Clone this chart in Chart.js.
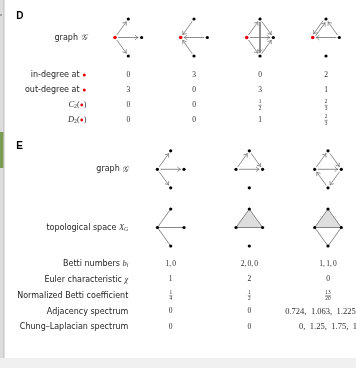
<!DOCTYPE html>
<html><head><meta charset="utf-8">
<script src="https://cdn.jsdelivr.net/npm/chart.js@4.4.1/dist/chart.umd.min.js"></script>
<style>html,body{margin:0;padding:0;background:#fff;overflow:hidden}canvas{display:block}</style>
</head><body>
<canvas id="c" width="356" height="368"></canvas>
<script>
// ---------------- data ----------------
const panelLetters = ['D', 'E'];
const dRowNames = ['in-degree at', 'out-degree at', 'C2', 'D2'];
const dInDegree = ['0', '3', '0', '2'];
const dOutDegree = ['3', '0', '3', '1'];
const dC2 = ['0', '0', '1/2', '2/3'];
const dD2 = ['0', '0', '1', '2/3'];
const dGraphEdges = [
  [['r','t'], ['r','R'], ['r','b']],
  [['t','r'], ['R','r'], ['b','r']],
  [['r','t'], ['r','R'], ['r','b'], ['t','R'], ['t','b'], ['b','R']],
  [['r','t'], ['t','r'], ['R','r'], ['R','t']]
];
const eRowNames = ['Betti numbers', 'Euler characteristic', 'Normalized Betti coefficient', 'Adjacency spectrum', 'Chung\u2013Laplacian spectrum'];
const eBetti = ['1, 0', '2, 0, 0', '1, 1, 0'];
const eEuler = ['1', '2', '0'];
const eNormBetti = ['1/4', '1/2', '13/20'];
const eAdjacency = ['0', '0', '0.724, 1.063, 1.225, \u2026'];
const eChungLaplacian = ['0', '0', '0, 1.25, 1.75, 1'];
const eGraphEdges = [
  [['l','t'], ['l','R'], ['l','b']],
  [['l','t'], ['t','R'], ['l','R']],
  [['l','t'], ['t','R'], ['l','R'], ['R','b'], ['b','l']]
];
const eComplexEdges = [
  [['l','t'], ['l','R'], ['l','b']],
  [['l','t'], ['t','R'], ['l','R']],
  [['l','t'], ['t','R'], ['l','R'], ['R','b'], ['b','l']]
];
const eComplexTriangles = [[], [['l','t','R']], [['l','t','R']]];

// ---------------- layout ----------------
const W = 356, H = 368;
const dColX = [128.3, 194, 260, 326];
const eColX = [170.7, 249.3, 328];
const dGraphY = 37.5, eGraphY = 169.3, eComplexY = 227.5;
const dRowY = [75, 90, 105, 120];
const eRowY = [264, 279.5, 295.5, 311.5, 327];
const dLabelRight = 86.5, eLabelRight = 128.3;
const nodeOff = { r: [-13.3, 0], l: [-13.3, 0], t: [0, -18.5], R: [13.3, 0], b: [0, 18.5] };
const RED = '#e8000b';
const SANS = "8px 'DejaVu Sans'";
const SERIF = "7.5px 'Liberation Serif'";
const SERIF_SPEC = "8.5px 'Liberation Serif'";
const ITAL = "italic 8.5px 'Liberation Serif'";
const SUB = "5.8px 'Liberation Serif'";
const SUBI = "italic 5.8px 'Liberation Serif'";
const FRAC = "5.3px 'Liberation Serif'";

function nodePos(cx, cy, k) { const o = nodeOff[k]; return { x: cx + o[0], y: cy + o[1] }; }

const datasets = [];
function addDirected(edges, cx, cy) {
  edges.forEach(([a, b]) => {
    const p = nodePos(cx, cy, a), q = nodePos(cx, cy, b);
    const dx = q.x - p.x, dy = q.y - p.y, L = Math.hypot(dx, dy), ux = dx / L, uy = dy / L;
    const dbl = edges.some(([c, d]) => c === b && d === a);
    const off = dbl ? 1.4 : 0, nx = -uy * off, ny = ux * off;
    datasets.push({
      type: 'scatter', showLine: true, arrow: true, order: 2,
      data: [{ x: p.x + ux * 3 + nx, y: p.y + uy * 3 + ny }, { x: q.x - ux * 3.4 + nx, y: q.y - uy * 3.4 + ny }],
      borderColor: '#7a7a7a', borderWidth: 0.85, pointRadius: 0
    });
  });
}
function addNodes(keys, cx, cy, redKey) {
  datasets.push({
    type: 'scatter', order: 1,
    data: keys.map(k => nodePos(cx, cy, k)),
    pointRadius: keys.map(k => k === redKey ? 1.8 : 1.6),
    pointBackgroundColor: keys.map(k => k === redKey ? RED : '#000'),
    pointBorderWidth: 0
  });
}
dGraphEdges.forEach((edges, i) => { addDirected(edges, dColX[i], dGraphY); addNodes(['r','t','R','b'], dColX[i], dGraphY, 'r'); });
eGraphEdges.forEach((edges, i) => { addDirected(edges, eColX[i], eGraphY); addNodes(['l','t','R','b'], eColX[i], eGraphY, null); });
eComplexEdges.forEach((edges, i) => {
  edges.forEach(([a, b]) => {
    datasets.push({
      type: 'scatter', showLine: true, order: 2,
      data: [nodePos(eColX[i], eComplexY, a), nodePos(eColX[i], eComplexY, b)],
      borderColor: '#6a6a6a', borderWidth: 0.8, pointRadius: 0
    });
  });
  addNodes(['l','t','R','b'], eColX[i], eComplexY, null);
});

// ---------------- text helpers ----------------
function drawRich(ctx, segs, x, y, align, color) {
  let total = 0;
  segs.forEach(s => {
    if (s.dot) s.w = s.dot * 2 + 1.4;
    else if (s.frac) { ctx.font = FRAC; s.w = Math.max(ctx.measureText(s.frac[0]).width, ctx.measureText(s.frac[1]).width) + 1.2; }
    else { ctx.font = s.font; ctx.wordSpacing = s.ws || '0px'; s.w = ctx.measureText(s.t).width; }
    total += s.w;
  });
  let cx = align === 'right' ? x - total : align === 'center' ? x - total / 2 : x;
  ctx.textAlign = 'left'; ctx.textBaseline = 'middle';
  segs.forEach(s => {
    if (s.dot) {
      ctx.fillStyle = s.color; ctx.beginPath(); ctx.arc(cx + s.w / 2, y + (s.dy || 0), s.dot, 0, Math.PI * 2); ctx.fill();
    } else if (s.frac) {
      ctx.font = FRAC; ctx.fillStyle = color; ctx.textAlign = 'center'; ctx.wordSpacing = '0px';
      ctx.fillText(s.frac[0], cx + s.w / 2, y - 3.0);
      ctx.fillText(s.frac[1], cx + s.w / 2, y + 3.4);
      ctx.strokeStyle = color; ctx.lineWidth = 0.5; ctx.beginPath(); ctx.moveTo(cx + 0.3, y + 0.3); ctx.lineTo(cx + s.w - 0.3, y + 0.3); ctx.stroke();
      ctx.textAlign = 'left';
    } else {
      ctx.font = s.font; ctx.wordSpacing = s.ws || '0px'; ctx.fillStyle = s.color || color;
      ctx.fillText(s.t, cx, y + (s.dy || 0));
    }
    cx += s.w;
  });
  ctx.wordSpacing = '0px';
}
function valueSegs(v, ws, font) {
  if (v.includes('/')) { const [n, d] = v.split('/'); return [{ frac: [n, d] }]; }
  return [{ t: v, font: font || SERIF, ws: ws }];
}

const panelPlugin = {
  id: 'panel',
  beforeDraw(chart) {
    const ctx = chart.ctx, xs = chart.scales.x, ys = chart.scales.y;
    const X = v => xs.getPixelForValue(v), Y = v => ys.getPixelForValue(v);
    ctx.save();
    ctx.fillStyle = '#fff'; ctx.fillRect(0, 0, W, H);
    ctx.fillStyle = '#dcdcdc'; ctx.fillRect(X(0), Y(0), 3.4, Y(358) - Y(0));
    ctx.fillStyle = '#b2b2b2'; ctx.fillRect(X(3.4), Y(0), 1, Y(358) - Y(0));
    ctx.fillStyle = '#7b9b52'; ctx.fillRect(X(0), Y(132), 3.4, Y(168) - Y(132));
    ctx.fillStyle = '#6a6a6a'; ctx.fillRect(X(0), Y(14.5), 2, 1);
    ctx.fillStyle = '#f0f0f0'; ctx.fillRect(X(0), Y(358), W, Y(368) - Y(358));
    ctx.restore();
  },
  beforeDatasetsDraw(chart) {
    const ctx = chart.ctx, xs = chart.scales.x, ys = chart.scales.y;
    ctx.save(); ctx.fillStyle = '#dedede';
    eComplexTriangles.forEach((tris, i) => tris.forEach(tri => {
      ctx.beginPath();
      tri.forEach((k, j) => { const p = nodePos(eColX[i], eComplexY, k); const px = xs.getPixelForValue(p.x), py = ys.getPixelForValue(p.y); j ? ctx.lineTo(px, py) : ctx.moveTo(px, py); });
      ctx.closePath(); ctx.fill();
    }));
    ctx.restore();
  },
  afterDatasetsDraw(chart) {
    const ctx = chart.ctx;
    ctx.save(); ctx.strokeStyle = '#707070'; ctx.lineWidth = 0.75; ctx.lineCap = 'round';
    chart.data.datasets.forEach((ds, i) => {
      if (!ds.arrow) return;
      const pts = chart.getDatasetMeta(i).data;
      const a = pts[0], b = pts[1];
      const ang = Math.atan2(b.y - a.y, b.x - a.x), len = 3.6, sp = 0.62;
      ctx.beginPath();
      ctx.moveTo(b.x - len * Math.cos(ang - sp), b.y - len * Math.sin(ang - sp));
      ctx.quadraticCurveTo(b.x - 1.2 * Math.cos(ang - 0.25), b.y - 1.2 * Math.sin(ang - 0.25), b.x, b.y);
      ctx.quadraticCurveTo(b.x - 1.2 * Math.cos(ang + 0.25), b.y - 1.2 * Math.sin(ang + 0.25), b.x - len * Math.cos(ang + sp), b.y - len * Math.sin(ang + sp));
      ctx.stroke();
    });
    ctx.restore();
  },
  afterDraw(chart) {
    const ctx = chart.ctx, xs = chart.scales.x, ys = chart.scales.y;
    const X = v => xs.getPixelForValue(v), Y = v => ys.getPixelForValue(v);
    const LBL = '#1e1e1e', VAL = '#2e2e2e';
    ctx.save();
    // panel letters
    ctx.font = "bold 10px 'Liberation Sans'"; ctx.fillStyle = '#000'; ctx.textAlign = 'left'; ctx.textBaseline = 'alphabetic';
    ctx.fillText(panelLetters[0], X(16.2), Y(18.6));
    ctx.fillText(panelLetters[1], X(16.2), Y(149.4));
    // D labels
    const gLabel = [{ t: 'graph ', font: SANS }, { t: '\uD835\uDCA2', font: "italic 8.5px 'DejaVu Serif'", color: '#333' }];
    drawRich(ctx, gLabel, X(dLabelRight), Y(dGraphY), 'right', LBL);
    const dLabels = [
      [{ t: dRowNames[0] + ' ', font: SANS }, { dot: 1.5, color: RED }],
      [{ t: dRowNames[1] + ' ', font: SANS }, { dot: 1.5, color: RED }],
      [{ t: dRowNames[2][0], font: ITAL, color: '#333' }, { t: dRowNames[2][1], font: SUB, dy: 1.8, color: '#333' }, { t: '(', font: "8px 'Liberation Serif'", color: '#333' }, { dot: 1.4, color: RED }, { t: ')', font: "8px 'Liberation Serif'", color: '#333' }],
      [{ t: dRowNames[3][0], font: ITAL, color: '#333' }, { t: dRowNames[3][1], font: SUB, dy: 1.8, color: '#333' }, { t: '(', font: "8px 'Liberation Serif'", color: '#333' }, { dot: 1.4, color: RED }, { t: ')', font: "8px 'Liberation Serif'", color: '#333' }]
    ];
    dLabels.forEach((segs, r) => drawRich(ctx, segs, X(dLabelRight), Y(dRowY[r]), 'right', LBL));
    [dInDegree, dOutDegree, dC2, dD2].forEach((row, r) => row.forEach((v, c) => drawRich(ctx, valueSegs(v), X(dColX[c]), Y(dRowY[r]), 'center', VAL)));
    // E labels
    drawRich(ctx, gLabel, X(eLabelRight), Y(eGraphY), 'right', LBL);
    drawRich(ctx, [{ t: 'topological space ', font: SANS }, { t: 'X', font: ITAL, color: '#333' }, { t: 'G', font: SUBI, dy: 1.8, color: '#333' }], X(eLabelRight), Y(eComplexY), 'right', LBL);
    const eLabels = [
      [{ t: eRowNames[0] + ' ', font: SANS }, { t: 'b', font: ITAL, color: '#333' }, { t: 'i', font: SUBI, dy: 1.8, color: '#333' }],
      [{ t: eRowNames[1] + ' ', font: SANS }, { t: '\u03C7', font: ITAL, color: '#333' }],
      [{ t: eRowNames[2], font: SANS }],
      [{ t: eRowNames[3], font: SANS }],
      [{ t: eRowNames[4], font: SANS }]
    ];
    eLabels.forEach((segs, r) => drawRich(ctx, segs, X(eLabelRight), Y(eRowY[r]), 'right', LBL));
    const wsRow = ['-0.7px', '0px', '0px', '2.3px', '2.3px'];
    const fontRow = [SERIF, SERIF, SERIF, SERIF_SPEC, SERIF_SPEC];
    [eBetti, eEuler, eNormBetti, eAdjacency, eChungLaplacian].forEach((row, r) => row.forEach((v, c) => {
      const f = v.includes(',') && r >= 3 ? fontRow[r] : SERIF;
      drawRich(ctx, valueSegs(v, wsRow[r], f), X(eColX[c]), Y(eRowY[r]), 'center', VAL);
    }));
    ctx.restore();
  }
};

new Chart(document.getElementById('c'), {
  type: 'scatter',
  data: { datasets: datasets },
  options: {
    responsive: false, animation: false, devicePixelRatio: 1,
    layout: { padding: 0, autoPadding: false },
    scales: {
      x: { type: 'linear', min: 0, max: W, display: false },
      y: { type: 'linear', min: 0, max: H, reverse: true, display: false }
    },
    plugins: { legend: { display: false }, tooltip: { enabled: false } },
    elements: { line: { tension: 0 } }
  },
  plugins: [panelPlugin]
});
</script>
</body></html>
